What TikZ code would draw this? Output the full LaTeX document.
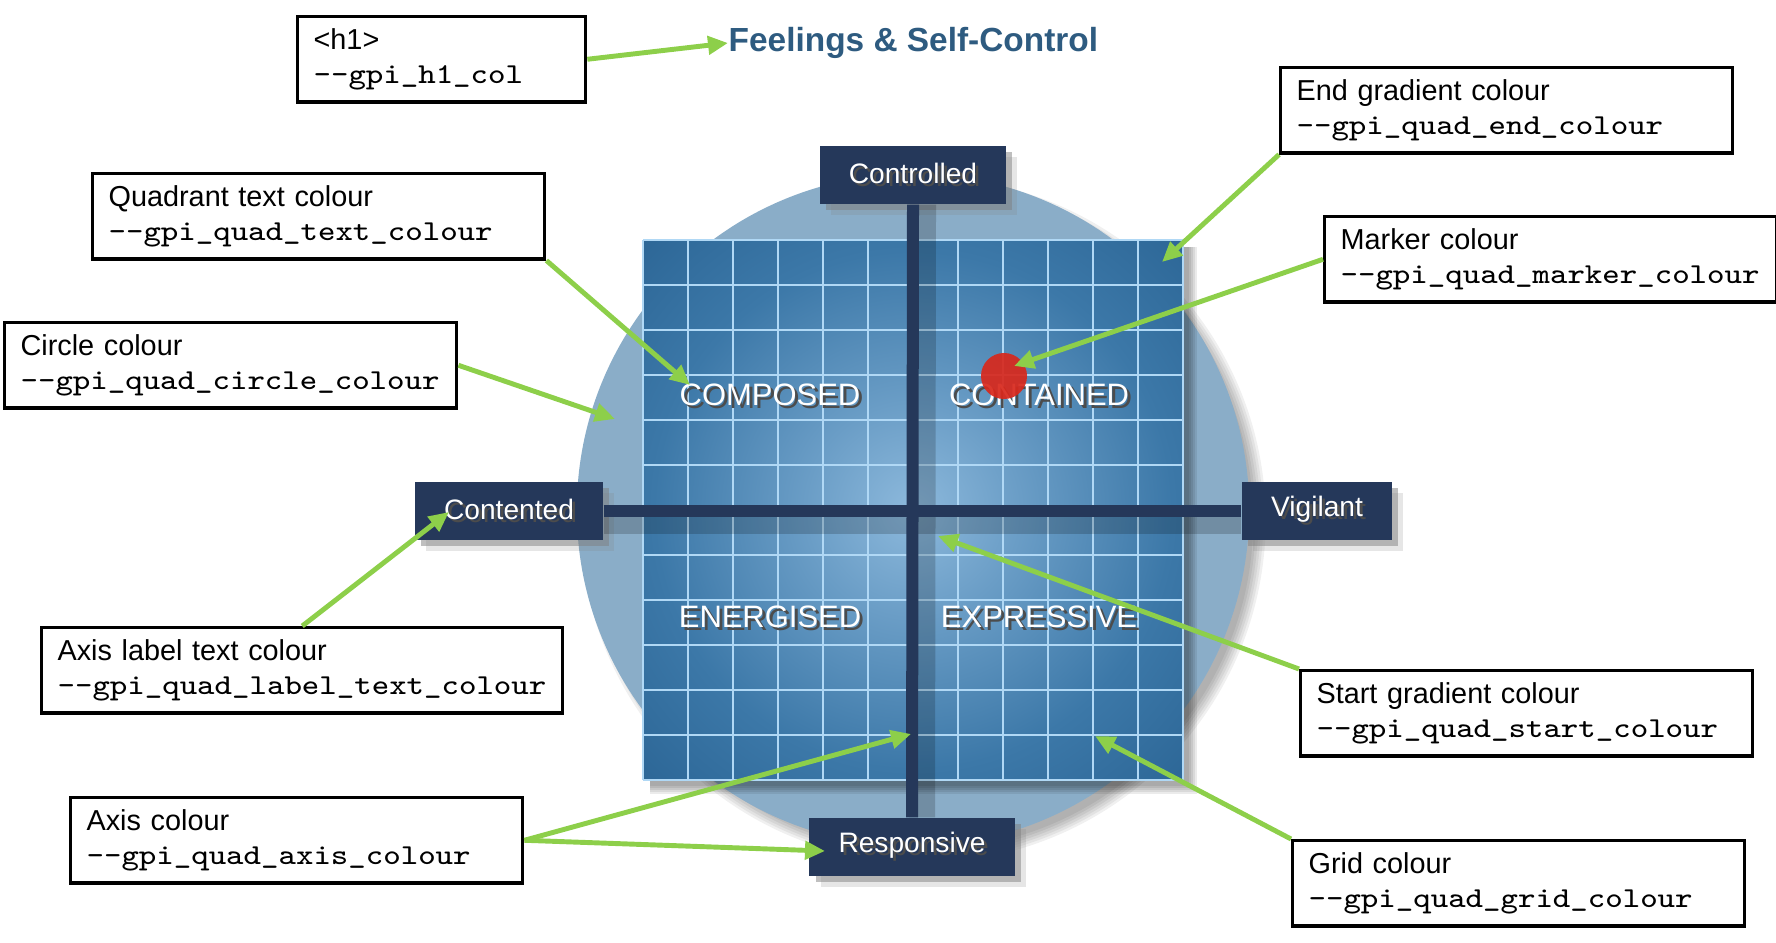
\documentclass[tikz,border=0pt]{standalone}
\usepackage{fontspec}
\setmainfont{Liberation Sans}
\setmonofont{Latin Modern Mono}[FakeStretch=1.14]
\usepackage{xcolor}
\usepackage{tikz}
\usetikzlibrary{arrows.meta,shadows}

\definecolor{titleblue}{HTML}{2E5B80}
\definecolor{axisnavy}{HTML}{25385A}
\definecolor{circleblue}{HTML}{8AADC8}
\definecolor{gridinner}{HTML}{8DB9DC}
\definecolor{gridmid}{HTML}{6A9DC6}
\definecolor{gridouter}{HTML}{3C78A8}
\definecolor{gridcorner}{HTML}{2C6696}
\definecolor{gridblue}{HTML}{B0D8F5}
\definecolor{markerred}{HTML}{D8281C}
\definecolor{pointgreen}{HTML}{8DCF4A}

\pgfdeclareradialshading{gridglow}{\pgfpoint{0bp}{0bp}}{%
  color(0bp)=(gridinner); color(10bp)=(gridmid); color(24bp)=(gridouter);
  color(36bp)=(gridcorner); color(50bp)=(gridcorner)}

% white text with a dark offset copy behind it
\newcommand{\glowtext}[1]{\makebox[0pt][l]{\hspace{0.9pt}\raisebox{-0.9pt}{\color{black!70}#1}}#1}

\begin{document}
\begin{tikzpicture}[x=0.01cm, y=-0.01cm,
                >={Triangle[width=1.8mm,length=2mm]},
                infobox/.style = {draw, line width=0.9pt, fill=white, anchor=north west,
                                  text width=4.2cm, minimum height=0.85cm, inner xsep=0.16cm,
                                  align=left, font=\fontsize{8.2}{9.8}\selectfont},
                axislabel/.style = {fill=axisnavy, text=white, inner xsep=0.29cm,
                                    minimum height=0.58cm, font=\fontsize{8}{9}\selectfont,
                                    drop shadow={shadow xshift=0.11cm, shadow yshift=-0.11cm, opacity=0.2},
                                    drop shadow={shadow xshift=0.06cm, shadow yshift=-0.06cm, opacity=0.5}},
                quadtext/.style = {text=white, font=\fontsize{8.8}{10}\selectfont},
                marker/.style = {circle, fill=markerred, opacity=0.92, minimum size=0.46cm, inner sep=0pt},
                pointer/.style = {->, draw=pointgreen, fill=pointgreen, line width=1.4pt},
                gridline/.style = {draw=gridblue, line width=0.6pt},
                axisline/.style = {draw=axisnavy, line width=0.12cm},
                axisshade/.style = {draw=black, opacity=0.18, line width=0.26cm}]
            \useasboundingbox (0,0) rectangle (1776,942);

            % Circle
            \foreach \r in {0,...,5}
                \fill[black, opacity=0.06] (923,520) circle ({3.30cm+0.025cm*\r});
            \fill[circleblue] (913,510) circle (3.36cm);

            % Grid
            \foreach \k in {0,...,4}
                \fill[black, opacity=0.08] (650,247) rectangle (1189+2*\k,786+2*\k);
            \shade[shading=gridglow] (643,240) rectangle (1183,780);
            \foreach \k in {0,...,12} {
                \draw[gridline] (643+45*\k,240) -- (643+45*\k,780);
                \draw[gridline] (643,240+45*\k) -- (1183,240+45*\k);
            }

            % Axis labels
            \node[axislabel] (ctrl) at (913,175) {\glowtext{Controlled}};
            \node[axislabel] (cont) at (509,511) {\glowtext{Contented}};
            \node[axislabel] (vig) at (1317,511) {\glowtext{Vigilant}};
            \node[axislabel] (resp) at (912,847) {\glowtext{Responsive}};

            % Axes
            \draw[axisshade] ([xshift=0.1cm]ctrl.south) -- ([xshift=0.1cm]resp.north);
            \draw[axisshade] ([yshift=-0.1cm]cont.east) -- ([yshift=-0.1cm]vig.west);
            \draw[axisline] (ctrl.south) -- (resp.north);
            \draw[axisline] (cont.east) -- (vig.west);

            % Quadrants
            \node[quadtext] (composed) at (770,396) {\glowtext{COMPOSED}};
            \node[quadtext] (contained) at (1039,396) {\glowtext{CONTAINED}};
            \node[quadtext] (energised) at (770,618) {\glowtext{ENERGISED}};
            \node[quadtext] (expressive) at (1039,618) {\glowtext{EXPRESSIVE}};
            \node[marker] (dot) at (1004,376) {};

            % Title
            \node[inner sep=0pt, anchor=west, text=titleblue,
                  font=\bfseries\fontsize{9.5}{11}\selectfont] (title) at (728,43) {Feelings \& Self-Control};

            % Boxes
            \node[infobox, text width=2.56cm] (h1) at (296,15) {<h1>\\\ttfamily -{}-gpi\_h1\_col};
            \node[infobox] (quadt) at (91,172) {Quadrant text colour\\\ttfamily -{}-gpi\_quad\_text\_colour};
            \node[infobox] (circ) at (3,321) {Circle colour\\\ttfamily -{}-gpi\_quad\_circle\_colour};
            \node[infobox, text width=4.89cm] (axl) at (40,626) {Axis label text colour\\\ttfamily -{}-gpi\_quad\_label\_text\_colour};
            \node[infobox] (axc) at (69,796) {Axis colour\\\ttfamily -{}-gpi\_quad\_axis\_colour};
            \node[infobox] (endg) at (1279,66) {End gradient colour\\\ttfamily -{}-gpi\_quad\_end\_colour};
            \node[infobox] (markbox) at (1323,215) {Marker colour\\\ttfamily -{}-gpi\_quad\_marker\_colour};
            \node[infobox] (startg) at (1299,669) {Start gradient colour\\\ttfamily -{}-gpi\_quad\_start\_colour};
            \node[infobox] (gridc) at (1291,839) {Grid colour\\\ttfamily -{}-gpi\_quad\_grid\_colour};

            % Arrow ends
            \coordinate (composedtip) at (690,385);
            \coordinate (circletip) at (615,419);
            \coordinate (labeltip) at (449,512);
            \coordinate (axistip) at (911,734);
            \coordinate (resptip) at (825,851);
            \coordinate (endtip) at (1162,262);
            \coordinate (markertip) at (1014,366);
            \coordinate (starttip) at (938,536);
            \coordinate (gridtip) at (1095,736);

            % Arrows
            \draw[pointer] (h1.east) -- (title.west);
            \draw[pointer] (quadt.south east) -- (composedtip);
            \draw[pointer] (circ.east) -- (circletip);
            \draw[pointer] (axl.north) -- (labeltip);
            \draw[pointer] (axc.east) -- (axistip);
            \draw[pointer] (axc.east) -- (resptip);
            \draw[pointer] (endg.south west) -- (endtip);
            \draw[pointer] (markbox.west) -- (markertip);
            \draw[pointer] (startg.north west) -- (starttip);
            \draw[pointer] (gridc.north west) -- (gridtip);
        \end{tikzpicture}
\end{document}
